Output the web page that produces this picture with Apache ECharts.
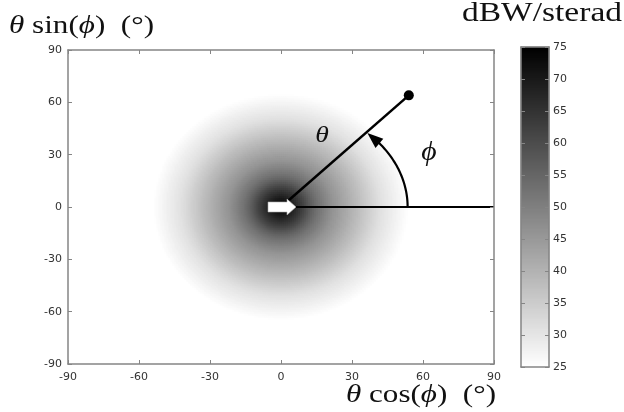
<!DOCTYPE html>
<html><head><meta charset="utf-8">
<script src="https://cdn.jsdelivr.net/npm/echarts@6/dist/echarts.min.js"></script>
<style>html,body{margin:0;padding:0;background:#fff}#c{width:624px;height:412px}</style>
</head><body><div id="c"></div>
<script>
// ---- data ----
const axisTicks = [-90, -60, -30, 0, 30, 60, 90];
const colorbarTicks = [25, 30, 35, 40, 45, 50, 55, 60, 65, 70, 75];
// radial profile of the field (radius in degrees along x, dBW/sterad)
const profileRadius = [0, 2, 4, 6, 8, 10, 12, 14, 16, 18, 20, 22, 24, 26, 28, 30, 32, 34, 36, 38, 40, 42, 44, 46, 48, 50, 52, 54];
const profileDb     = [74, 72, 70, 67, 64, 61, 57.5, 54.5, 52, 50, 48, 46, 44.5, 43, 41.5, 40, 38.5, 37, 35.5, 34, 32.5, 31, 30, 29, 28, 27, 26, 25];
const blobAspect = 1.2;          // vertical / horizontal extent of the field (in degrees)
const thetaRay = [[0, 0], [54, 64]];
const phiRay = [[0, 0], [90, 0]];
const phiArc = [53.5, 58];       // semi-axes of the phi arrow arc (degrees)

// ---- layout ----
const plot = { left: 68, top: 50, width: 426, height: 314 };
const cbar = { left: 521, top: 47, width: 28, height: 320 };

// ---- build tables ----
const lo = axisTicks[0], hi = axisTicks[axisTicks.length - 1], step = axisTicks[1] - axisTicks[0];
const cMin = colorbarTicks[0], cMax = colorbarTicks[colorbarTicks.length - 1];
function dbAt(r) {
  if (r >= profileRadius[profileRadius.length - 1]) return profileDb[profileDb.length - 1];
  for (let k = 0; k < profileRadius.length - 1; k++) {
    if (r <= profileRadius[k + 1]) {
      const f = (r - profileRadius[k]) / (profileRadius[k + 1] - profileRadius[k]);
      return profileDb[k] + f * (profileDb[k + 1] - profileDb[k]);
    }
  }
  return cMin;
}
const NX = plot.width / 2, NY = plot.height / 2;
const cwx = (hi - lo) / NX, cwy = (hi - lo) / NY;
const xCats = [], yCats = [];
for (let i = 0; i < NX; i++) xCats.push((lo + (i + 0.5) * cwx).toFixed(3));
for (let j = 0; j < NY; j++) yCats.push((lo + (j + 0.5) * cwy).toFixed(3));
const cells = [];
for (let i = 0; i < NX; i++) {
  const x = lo + (i + 0.5) * cwx;
  for (let j = 0; j < NY; j++) {
    const y = lo + (j + 0.5) * cwy;
    const v = dbAt(Math.hypot(x, y / blobAspect));
    if (v > cMin + 0.02) cells.push([i, j, v]);
  }
}
const L = cbar.height / 2, cbLevels = [], cbCells = [];
for (let k = 0; k < L; k++) {
  const v = cMin + (k + 0.5) * (cMax - cMin) / L;
  cbLevels.push(v.toFixed(3));
  cbCells.push([0, k, v]);
}

const axisGray = '#858585';
const lblStyle = { color: '#333', fontFamily: 'DejaVu Sans', fontSize: 11 };
const lineSt = { color: axisGray, width: 1.5 };

function valAxis(grid, pos, min, max, interval, labels, margin) {
  return {
    gridIndex: grid, type: 'value', position: pos, min: min, max: max, interval: interval, z: 10,
    axisLine: { show: true, onZero: false, lineStyle: lineSt },
    axisTick: { show: true, inside: true, length: 4, lineStyle: { color: axisGray, width: 1 } },
    axisLabel: labels ? Object.assign({ show: true, margin: margin }, lblStyle) : { show: false },
    splitLine: { show: false }
  };
}

const chart = echarts.init(document.getElementById('c'));
chart.setOption({
  animation: false,
  backgroundColor: '#fff',
  grid: [
    Object.assign({}, plot), Object.assign({}, plot),
    Object.assign({}, cbar), Object.assign({}, cbar)
  ],
  xAxis: [
    { gridIndex: 0, type: 'category', data: xCats, show: false },
    valAxis(1, 'bottom', lo, hi, step, true, 8),
    valAxis(1, 'top', lo, hi, step, false),
    { gridIndex: 2, type: 'category', data: ['c'], show: false },
    Object.assign(valAxis(3, 'bottom', 0, 1, 1, false), { axisTick: { show: false } }),
    Object.assign(valAxis(3, 'top', 0, 1, 1, false), { axisTick: { show: false } })
  ],
  yAxis: [
    { gridIndex: 0, type: 'category', data: yCats, show: false },
    valAxis(1, 'left', lo, hi, step, true, 6),
    valAxis(1, 'right', lo, hi, step, false),
    { gridIndex: 2, type: 'category', data: cbLevels, show: false },
    valAxis(3, 'right', cMin, cMax, colorbarTicks[1] - colorbarTicks[0], true, 4),
    valAxis(3, 'left', cMin, cMax, colorbarTicks[1] - colorbarTicks[0], false)
  ],
  visualMap: {
    type: 'continuous', show: false, min: cMin, max: cMax, dimension: 2,
    seriesIndex: [0, 1], inRange: { color: ['#ffffff', '#000000'] }
  },
  series: [
    { type: 'heatmap', xAxisIndex: 0, yAxisIndex: 0, data: cells, progressive: 0, silent: true, emphasis: { disabled: true } },
    { type: 'heatmap', xAxisIndex: 3, yAxisIndex: 3, data: cbCells, progressive: 0, silent: true, emphasis: { disabled: true } },
    { type: 'line', xAxisIndex: 1, yAxisIndex: 1, data: thetaRay, symbol: 'none', z: 5, silent: true,
      lineStyle: { color: '#000', width: 2.5 } },
    { type: 'line', xAxisIndex: 1, yAxisIndex: 1, data: phiRay, symbol: 'none', z: 5, silent: true,
      lineStyle: { color: '#000', width: 2 } },
    { type: 'scatter', xAxisIndex: 1, yAxisIndex: 1, data: [thetaRay[1]], symbol: 'circle', symbolSize: 10, z: 6, silent: true,
      itemStyle: { color: '#000', opacity: 1 } }
  ]
});

// ---- annotations ----
const mctx = document.createElement('canvas').getContext('2d');
const SERIF = "'Liberation Serif', 'DejaVu Serif', serif";
function segWidth(segs, size) {
  let w = 0;
  segs.forEach(s => { mctx.font = (s[1] ? 'italic ' : '') + size + 'px ' + SERIF; w += mctx.measureText(s[0]).width; });
  return w;
}
function richLabel(segs, size, left, midY, width) {
  const txt = segs.map(s => s[1] ? '{i|' + s[0] + '}' : s[0]).join('');
  const sx = width / segWidth(segs, size);
  return {
    type: 'text', x: left, y: midY, scaleX: sx, z: 100, silent: true,
    style: {
      text: txt, fontFamily: SERIF, fontSize: size, fill: '#111', align: 'left', verticalAlign: 'middle',
      rich: { i: { fontStyle: 'italic', fontFamily: SERIF, fontSize: size, fill: '#111' } }
    }
  };
}
const px = p => chart.convertToPixel({ xAxisIndex: 1, yAxisIndex: 1 }, p);
const O = px(phiRay[0]);
const deg = Math.PI / 180;
const arcPts = [];
for (let t = 0; t <= 41; t += 1) arcPts.push(px([phiArc[0] * Math.cos(t * deg), phiArc[1] * Math.sin(t * deg)]));
const tip = px([phiArc[0] * Math.cos(47 * deg), phiArc[1] * Math.sin(47 * deg)]);
const base = px([phiArc[0] * Math.cos(39 * deg), phiArc[1] * Math.sin(39 * deg)]);
const dx = tip[0] - base[0], dy = tip[1] - base[1], dl = Math.hypot(dx, dy);
const nx = -dy / dl * 6, ny = dx / dl * 6;
const ox = O[0], oy = O[1];

chart.setOption({
  graphic: [
    { type: 'polyline', z: 90, silent: true, shape: { points: arcPts }, style: { stroke: '#000', lineWidth: 2.2, fill: null } },
    { type: 'polygon', z: 91, silent: true, shape: { points: [tip, [base[0] + nx, base[1] + ny], [base[0] - nx, base[1] - ny]] }, style: { fill: '#000' } },
    { type: 'polygon', z: 95, silent: true,
      shape: { points: [[ox - 13, oy - 5], [ox + 6, oy - 5], [ox + 6, oy - 8], [ox + 15, oy], [ox + 6, oy + 8], [ox + 6, oy + 5], [ox - 13, oy + 5]] },
      style: { fill: '#fff', stroke: '#aaa', lineWidth: 0.6 } },
    { type: 'text', x: 322, y: 136, scaleX: 1.15, z: 100, silent: true,
      style: { text: 'θ', fontFamily: SERIF, fontStyle: 'italic', fontSize: 24, fill: '#111', align: 'center', verticalAlign: 'middle' } },
    { type: 'text', x: 429, y: 153, scaleX: 1.1, z: 100, silent: true,
      style: { text: 'ϕ', fontFamily: SERIF, fontStyle: 'italic', fontSize: 27, fill: '#111', align: 'center', verticalAlign: 'middle' } },
    richLabel([['dBW/sterad', false]], 27, 462, 14, 160),
    richLabel([['θ', true], [' sin(', false], ['ϕ', true], [')  (°)', false]], 26, 9, 26, 145),
    richLabel([['θ', true], [' cos(', false], ['ϕ', true], [')  (°)', false]], 26, 346, 395, 150)
  ]
});
</script></body></html>
